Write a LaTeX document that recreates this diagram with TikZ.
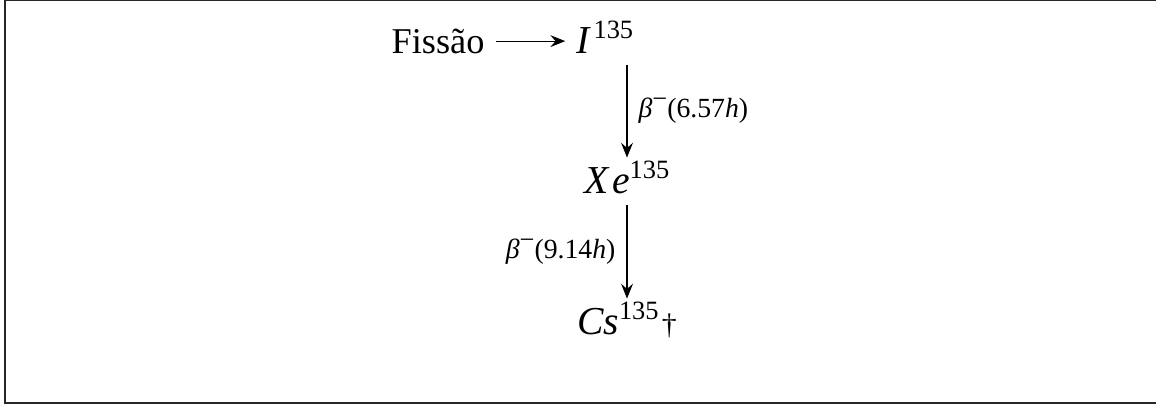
\documentclass[tikz,border=0pt]{standalone}
\usepackage{fontspec}
\setmainfont{Liberation Serif}
\usepackage{tikz}
\usetikzlibrary{arrows.meta, positioning}

\newcommand{\betam}{\textit{β}\raisebox{0.8ex}{\fontsize{8}{8}\selectfont −}}
\newcommand{\isomass}[1]{\raisebox{4.3pt}{\fontsize{8}{8}\selectfont #1}}

\begin{document}
\begin{tikzpicture}[x=0.303pt, y=-0.303pt,
  species/.style={font=\fontsize{12}{14}\selectfont, anchor=base, text height=7.2pt, text depth=0pt},
  arr/.style={-{Stealth[length=4.5pt, width=3.6pt, inset=1.6pt]}, line width=0.35pt},
  lbl/.style={font=\fontsize{8.4}{10}\selectfont},
  frame/.style={line width=0.4pt, black!85},
]
  \useasboundingbox (0,0) rectangle (1156,407);

  % Frame
  \draw[frame] (1156,0) -- (5,0) -- (5,403) -- (1156,403);

  % Decay chain
  \node[species, font=\fontsize{11}{13}\selectfont] (fis) at (438,53) {Fissão};
  \node[species] (iod) at (605,53) {\textit{I}\kern0.6pt\isomass{135}};
  \node[species] (xe) at (627,193) {\textit{X\kern0.08em e}\isomass{135}};
  \node[species] (cs) at (627,334) {\textit{Cs}\isomass{135}\kern1pt{\fontsize{9}{9}\selectfont †}};

  % Arrows
  \draw[arr] (fis) -- (fis -| iod.west);
  \draw[arr] (iod.south -| xe) -- (xe)
    node[midway, right, lbl] {\betam(6.57\textit{h})};
  \draw[arr] (xe) -- (cs)
    node[midway, left, lbl] {\betam(9.14\textit{h})};

\end{tikzpicture}
\end{document}
